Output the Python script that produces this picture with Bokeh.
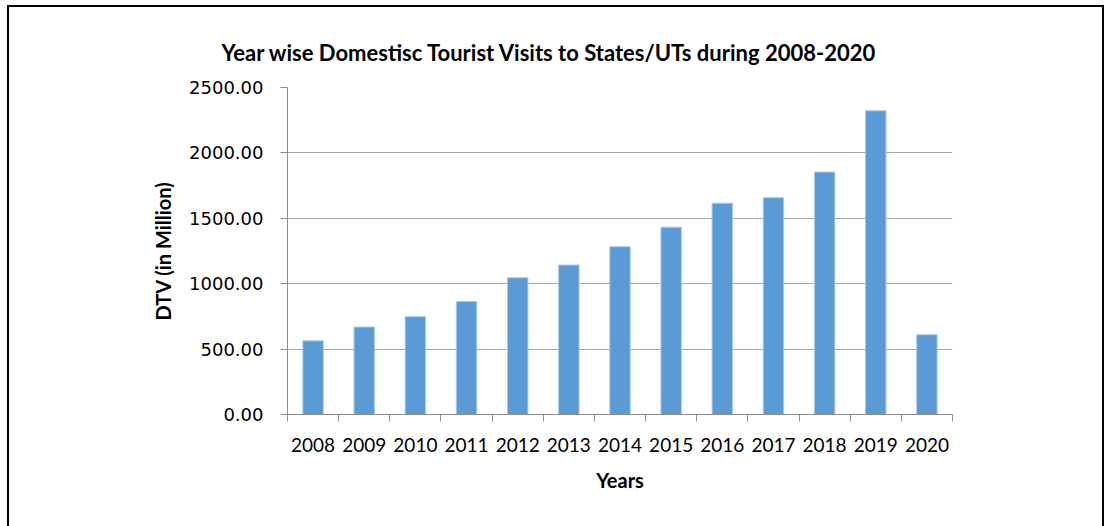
from bokeh.plotting import figure
from bokeh.models import Range1d, FixedTicker, NumeralTickFormatter, Title
from bokeh.embed import file_html
from bokeh.resources import INLINE

years = ["2008", "2009", "2010", "2011", "2012", "2013", "2014",
         "2015", "2016", "2017", "2018", "2019", "2020"]
dtv = [563.03, 668.80, 747.70, 864.53, 1045.05, 1142.53, 1282.80,
       1431.97, 1615.39, 1657.55, 1853.79, 2321.98, 610.22]
y_ticks = [0, 500, 1000, 1500, 2000, 2500]

title_text = "Year wise Domestisc Tourist Visits to States/UTs during  2008-2020"

n = len(years)
xc = [i + 0.5 for i in range(n)]

p = figure(width=1097, height=526, output_backend="svg", toolbar_location=None,
           x_range=Range1d(0, n), y_range=Range1d(0, 2500),
           min_border_left=278, min_border_right=154, min_border_top=80,
           min_border_bottom=119,
           styles={"border-left": "2px solid black", "border-top": "2px solid black",
                   "border-right": "2px solid black",
                   "margin-left": "7px", "margin-top": "5px"})
p.outline_line_color = None
p.background_fill_color = "white"
p.border_fill_color = "white"

p.vbar(x=xc, top=dtv, width=0.4, fill_color="#5B9BD5", line_color="#A9CBEA", line_width=1)

# y axis
ya = p.yaxis[0]
ya.ticker = FixedTicker(ticks=y_ticks)
ya.formatter = NumeralTickFormatter(format="0.00")
ya.major_tick_out = 7
ya.major_tick_in = 0
ya.minor_tick_out = 0
ya.minor_tick_in = 0
ya.axis_line_color = "#8C8C8C"
ya.major_tick_line_color = "#8C8C8C"
ya.major_label_text_font = "DejaVu Sans"
ya.major_label_text_font_size = "18px"
ya.major_label_text_color = "black"
ya.major_label_standoff = 17
ya.axis_label = "DTV (in Million)"
ya.axis_label_text_font = "Lato"
ya.axis_label_text_font_style = "bold"
ya.axis_label_text_font_size = "20px"
ya.axis_label_text_color = "black"
ya.axis_label_standoff = 11

# x axis
xa = p.xaxis[0]
xa.ticker = FixedTicker(ticks=xc, minor_ticks=list(range(n + 1)))
xa.major_label_overrides = {x: y for x, y in zip(xc, years)}
xa.major_tick_out = 0
xa.major_tick_in = 0
xa.minor_tick_out = 7
xa.minor_tick_in = 0
xa.axis_line_color = "#8C8C8C"
xa.minor_tick_line_color = "#8C8C8C"
xa.major_label_text_font = "Lato"
xa.major_label_text_font_size = "19px"
xa.major_label_text_color = "black"
xa.major_label_standoff = 16
xa.axis_label = "Years"
xa.axis_label_text_font = "Lato"
xa.axis_label_text_font_style = "bold"
xa.axis_label_text_font_size = "20px"
xa.axis_label_text_color = "black"
xa.axis_label_standoff = 13

p.xgrid.grid_line_color = None
p.ygrid.ticker = FixedTicker(ticks=y_ticks)
p.ygrid.grid_line_color = "#A6A6A6"
p.ygrid.grid_line_width = 1

p.title = Title(text=title_text, align="left", offset=-66, standoff=44,
                text_font="Lato", text_font_style="bold", text_font_size="22px",
                text_color="black")

open("out.html", "w").write(file_html(p, INLINE))
